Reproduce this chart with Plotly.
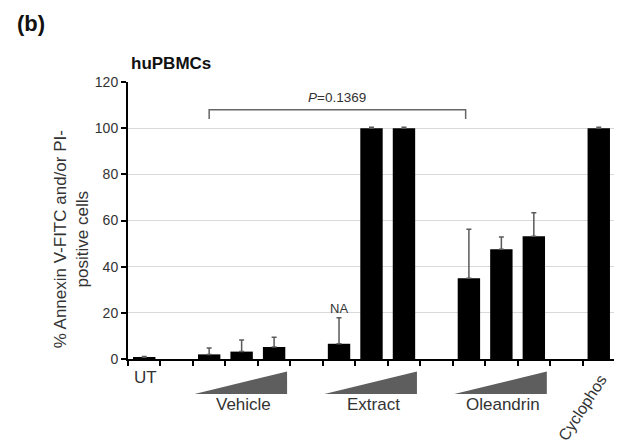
import plotly.graph_objects as go

# ---- data ----
categories = ["UT", "", "Vehicle 1", "Vehicle 2", "Vehicle 3", " ",
              "Extract 1", "Extract 2", "Extract 3", "  ",
              "Oleandrin 1", "Oleandrin 2", "Oleandrin 3", "   ", "Cyclophos"]
values = [0.8, None, 2.0, 3.2, 5.2, None, 6.6, 100, 100, None, 35.0, 47.5, 53.2, None, 100]
errors = [0.3, 0, 2.8, 5.0, 4.2, 0, 11.3, 0.4, 0.4, 0, 21.2, 5.3, 10.2, 0, 0.4]
y_ticks = [0, 20, 40, 60, 80, 100, 120]
group_names = ["Vehicle", "Extract", "Oleandrin"]
group_first = [2, 6, 10]
group_last = [4, 8, 12]
p_text = "<i>P</i>=0.1369"
p_from, p_to = 2, 9.9
na_index = 6

xs = list(range(len(categories)))
FONT = "Liberation Sans, Arial, sans-serif"
TXT = "#333333"

fig = go.Figure()
fig.add_trace(go.Bar(
    x=xs, y=values,
    marker=dict(color="black", line=dict(width=0)),
    error_y=dict(type="data", symmetric=False, array=errors,
                 arrayminus=[0] * len(errors),
                 color="#5a5a5a", thickness=1.5, width=2.5),
    width=0.69,
    hoverinfo="skip",
))

shapes = []
annotations = []
# wedges under groups
for f, l, name in zip(group_first, group_last, group_names):
    x0 = f - 0.45
    x1 = l + 0.4
    shapes.append(dict(type="path", xref="x", yref="paper",
                       path=f"M {x0},-0.126 L {x1},-0.126 L {x1},-0.045 Z",
                       fillcolor="#5e5e5e", line=dict(width=0)))
    annotations.append(dict(x=(f + l) / 2 + 0.05, y=-0.163, xref="x", yref="paper",
                            text=name, showarrow=False,
                            font=dict(size=17, color=TXT, family=FONT),
                            xanchor="center", yanchor="middle"))
annotations.append(dict(x=0.05, y=-0.067, xref="x", yref="paper", text="UT",
                        showarrow=False, font=dict(size=17, color=TXT, family=FONT),
                        xanchor="center", yanchor="middle"))
annotations.append(dict(x=13.5, y=-0.175, xref="x", yref="paper", text="Cyclophos",
                        showarrow=False, textangle=-57,
                        font=dict(size=16, color=TXT, family=FONT),
                        xanchor="center", yanchor="middle"))
# bracket
shapes.append(dict(type="path", xref="x", yref="y",
                   path=f"M {p_from},104 L {p_from},108 L {p_to},108 L {p_to},104",
                   line=dict(color="#666666", width=1.5)))
annotations.append(dict(x=(p_from + p_to) / 2, y=113.2, xref="x", yref="y",
                        text=p_text, showarrow=False,
                        font=dict(size=13.5, color=TXT, family=FONT),
                        xanchor="center", yanchor="middle"))
annotations.append(dict(x=na_index, y=21.9, xref="x", yref="y", text="NA",
                        showarrow=False, font=dict(size=13, color=TXT, family=FONT),
                        xanchor="center", yanchor="middle"))
# titles
annotations.append(dict(x=0.002, y=1.066, xref="paper", yref="paper",
                        text="<b>huPBMCs</b>", showarrow=False,
                        font=dict(size=17, color="#111111", family=FONT),
                        xanchor="left", yanchor="middle"))
annotations.append(dict(x=-0.232, y=1.21, xref="paper", yref="paper",
                        text="<b>(b)</b>", showarrow=False,
                        font=dict(size=22, color="#111111", family=FONT),
                        xanchor="left", yanchor="middle"))
annotations.append(dict(x=-0.117, y=0.432, xref="paper", yref="paper",
                        text="% Annexin V-FITC and/or PI-<br>positive cells",
                        showarrow=False, textangle=-90,
                        font=dict(size=17, color=TXT, family=FONT),
                        xanchor="center", yanchor="middle"))

fig.update_layout(
    width=622, height=443,
    margin=dict(l=120, r=15, t=74, b=92),
    paper_bgcolor="white", plot_bgcolor="white",
    showlegend=False,
    shapes=shapes, annotations=annotations,
    font=dict(family=FONT, color=TXT),
)
fig.update_xaxes(
    range=[-0.5, len(categories) - 0.5],
    tickvals=[i - 0.5 for i in range(len(categories) + 1)],
    showticklabels=False, ticks="outside", ticklen=5, tickwidth=2, tickcolor="black",
    showline=True, linecolor="black", linewidth=2, showgrid=False, zeroline=False,
)
fig.update_yaxes(
    range=[0, 120], tickvals=y_ticks,
    ticks="outside", ticklen=5, tickwidth=2, tickcolor="black",
    showline=True, linecolor="black", linewidth=2,
    showgrid=True, gridcolor="#d9d9d9", gridwidth=1, zeroline=False,
    tickfont=dict(size=14, color=TXT, family=FONT),
)

fig.write_html("out.html")
